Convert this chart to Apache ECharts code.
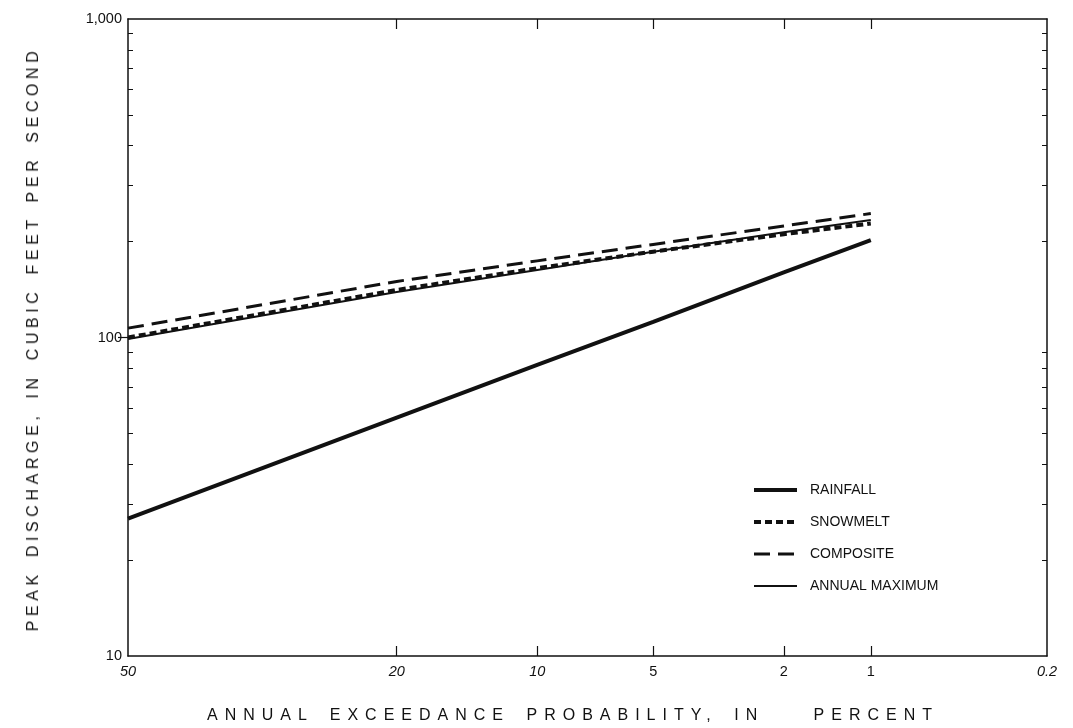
<!DOCTYPE html>
<html>
<head>
<meta charset="utf-8">
<script src="https://cdn.jsdelivr.net/npm/echarts@6/dist/echarts.min.js"></script>
<style>
  html, body { margin: 0; padding: 0; background: #fff; }
  #wrap { position: relative; width: 1073px; height: 728px; }
  #chart { width: 1073px; height: 728px; }
  .axis-title {
    position: absolute; font-family: "Liberation Sans", Arial, sans-serif;
    font-size: 16px; color: #111; white-space: pre;
  }
  #xtitle { left: 207px; top: 706px; letter-spacing: 7px; word-spacing: 5px; }
  #ytitle { left: 33px; top: 339px; letter-spacing: 4.6px; word-spacing: 4px;
            transform: translate(-50%, -50%) rotate(-90deg); }
</style>
</head>
<body>
<div id="wrap">
  <div id="chart"></div>
  <div id="xtitle" class="axis-title">ANNUAL EXCEEDANCE PROBABILITY, IN   PERCENT</div>
  <div id="ytitle" class="axis-title">PEAK DISCHARGE, IN CUBIC FEET PER SECOND</div>
</div>
<script>
// Exceedance probabilities (percent) at which each curve is read
const probabilities = [50, 20, 10, 5, 2, 1];
// Peak discharge, cubic feet per second
const rainfall  = [27, 56, 82, 112, 160, 202];
const snowmelt  = [100, 141, 165, 186, 211, 228];
const composite = [107, 150, 174, 196, 224, 245];
const annualMax = [99, 139, 163, 186, 214, 234];

// Probability-axis tick labels (percent) and log-axis ticks
const xTickLabels = [50, 20, 10, 5, 2, 1, 0.2];
const yMajorTicks = [10, 100, 1000];
const yMinorTicks = [20, 30, 40, 50, 60, 70, 80, 90, 200, 300, 400, 500, 600, 700, 800, 900];

// Inverse standard normal CDF (Acklam's rational approximation)
function normInv(p) {
  const a = [-3.969683028665376e+01, 2.209460984245205e+02, -2.759285104469687e+02,
             1.383577518672690e+02, -3.066479806614716e+01, 2.506628277459239e+00];
  const b = [-5.447609879822406e+01, 1.615858368580409e+02, -1.556989798598866e+02,
             6.680131188771972e+01, -1.328068155288572e+01];
  const c = [-7.784894002430293e-03, -3.223964580411365e-01, -2.400758277161838e+00,
             -2.549671010229297e+00, 4.374664141464968e+00, 2.938163982698783e+00];
  const d = [7.784695709041462e-03, 3.224671290700398e-01, 2.445134137142996e+00,
             3.754408661907416e+00];
  const pl = 0.02425, ph = 1 - pl;
  let q, r;
  if (p < pl) {
    q = Math.sqrt(-2 * Math.log(p));
    return (((((c[0]*q+c[1])*q+c[2])*q+c[3])*q+c[4])*q+c[5]) /
           ((((d[0]*q+d[1])*q+d[2])*q+d[3])*q+1);
  }
  if (p <= ph) {
    q = p - 0.5; r = q * q;
    return (((((a[0]*r+a[1])*r+a[2])*r+a[3])*r+a[4])*r+a[5])*q /
           (((((b[0]*r+b[1])*r+b[2])*r+b[3])*r+b[4])*r+1);
  }
  q = Math.sqrt(-2 * Math.log(1 - p));
  return -(((((c[0]*q+c[1])*q+c[2])*q+c[3])*q+c[4])*q+c[5]) /
          ((((d[0]*q+d[1])*q+d[2])*q+d[3])*q+1);
}
// Exceedance percent -> normal-probability axis position
const probZ = pct => pct === 50 ? 0 : normInv(1 - pct / 100);

const xTickValues = xTickLabels.map(probZ);
const xMin = probZ(50), xMax = probZ(0.2);
const labelFor = v => {
  let best = 0;
  xTickValues.forEach((t, i) => { if (Math.abs(t - v) < Math.abs(xTickValues[best] - v)) best = i; });
  return xTickLabels[best];
};
const pairs = vals => probabilities.map((p, i) => [probZ(p), vals[i]]);

const font = '"Liberation Sans", Arial, sans-serif';
const ink = '#111';

// Line styles shared by the curves and their legend keys
const styles = {
  'RAINFALL':       { color: ink, width: 4, type: 'solid' },
  'SNOWMELT':       { color: ink, width: 4, type: [7, 4] },
  'COMPOSITE':      { color: ink, width: 3, type: [16, 8] },
  'ANNUAL MAXIMUM': { color: ink, width: 2, type: 'solid' }
};

const chart = echarts.init(document.getElementById('chart'), null, { renderer: 'canvas' });

const xAxisCommon = {
  type: 'value', min: xMin, max: xMax,
  axisLine: { show: true, onZero: false, lineStyle: { color: ink, width: 1.5 } },
  splitLine: { show: false },
  axisTick: { show: true, inside: true, length: 10, customValues: xTickValues.slice(1, -1),
              lineStyle: { color: ink, width: 1.2 } }
};
const yAxisCommon = {
  type: 'log', logBase: 10, min: 10, max: 1000,
  axisLine: { show: true, onZero: false, lineStyle: { color: ink, width: 1.5 } },
  splitLine: { show: false },
  axisTick: { show: true, inside: true, length: 5, customValues: yMinorTicks,
              lineStyle: { color: ink, width: 1 } }
};

const legendNames = ['RAINFALL', 'SNOWMELT', 'COMPOSITE', 'ANNUAL MAXIMUM'];

chart.setOption({
  animation: false,
  backgroundColor: '#fff',
  color: [ink],
  grid: { left: 128, right: 26, top: 19, bottom: 72, containLabel: false },
  xAxis: [
    Object.assign({}, xAxisCommon, {
      position: 'bottom',
      axisLabel: {
        show: true, customValues: xTickValues, margin: 8,
        fontFamily: font, fontSize: 14.5, color: ink,
        formatter: v => {
          const l = labelFor(v);
          return [50, 20, 10, 0.2].includes(l) ? '{it|' + l + '}' : String(l);
        },
        rich: { it: { fontStyle: 'italic', fontFamily: font, fontSize: 14.5, color: ink } }
      }
    }),
    Object.assign({}, xAxisCommon, { position: 'top', axisLabel: { show: false } })
  ],
  yAxis: [
    Object.assign({}, yAxisCommon, {
      position: 'left',
      axisLabel: {
        show: true, customValues: yMajorTicks, margin: 6,
        fontFamily: font, fontSize: 14.5, color: ink,
        formatter: v => Math.round(v).toLocaleString('en-US')
      }
    }),
    Object.assign({}, yAxisCommon, { position: 'right', axisLabel: { show: false } }),
    Object.assign({}, yAxisCommon, {
      position: 'right', axisLine: { show: false }, axisLabel: { show: false },
      axisTick: { show: true, inside: true, length: 10, customValues: [100],
                  lineStyle: { color: ink, width: 1.2 } }
    })
  ],
  legend: {
    orient: 'vertical', left: 752, top: 483, padding: 0,
    itemWidth: 43, itemHeight: 14, itemGap: 18,
    itemStyle: { opacity: 0 },
    textStyle: { fontFamily: font, fontSize: 14, color: ink, padding: [0, 0, 0, 8] },
    data: legendNames.map(n => ({ name: n, lineStyle: styles[n], itemStyle: { opacity: 0 } }))
  },
  series: [
    { name: 'RAINFALL', type: 'line', data: pairs(rainfall), symbol: 'none',
      itemStyle: { color: ink }, lineStyle: styles['RAINFALL'], z: 3 },
    { name: 'ANNUAL MAXIMUM', type: 'line', data: pairs(annualMax), symbol: 'none',
      itemStyle: { color: ink }, lineStyle: styles['ANNUAL MAXIMUM'], z: 2 },
    { name: 'SNOWMELT', type: 'line', data: pairs(snowmelt), symbol: 'none',
      itemStyle: { color: ink }, lineStyle: styles['SNOWMELT'], z: 4 },
    { name: 'COMPOSITE', type: 'line', data: pairs(composite), symbol: 'none',
      itemStyle: { color: ink }, lineStyle: styles['COMPOSITE'], z: 4 }
  ]
});
</script>
</body>
</html>
